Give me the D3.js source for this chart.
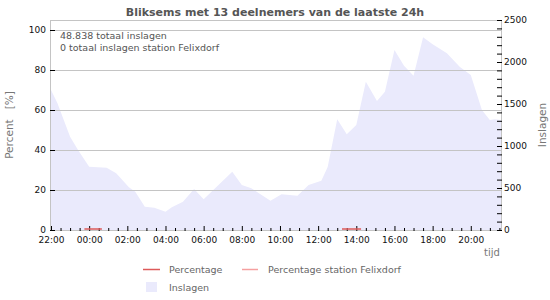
<!DOCTYPE html>
<html><head><meta charset="utf-8">
<script src="https://cdn.jsdelivr.net/npm/d3@7"></script>
<style>body{margin:0;background:#fff}svg{display:block;font-family:"DejaVu Sans",sans-serif}</style>
</head><body><svg id="c" width="550" height="300"></svg>
<script>
const title = "Bliksems met 13 deelnemers van de laatste 24h";
const infoLines = ["48.838 totaal inslagen", "0 totaal inslagen station Felixdorf"];
const inslagenTimes = ["22:00","22:20","23:00","23:25","00:00","00:55","01:25","02:05","02:25","02:55","03:25","04:00","04:20","04:55","05:30","06:00","07:30","08:00","08:30","09:30","10:05","10:55","11:30","12:10","12:30","13:00","13:30","14:00","14:30","15:05","15:30","16:00","16:30","17:00","17:30","18:00","18:45","19:25","20:00","20:35","21:00","21:15","21:35"];
const inslagenValues = [1667,1512,1111,952,754,742,675,508,456,278,266,218,270,337,488,365,694,536,496,349,425,408,536,587,750,1317,1139,1250,1766,1536,1647,2143,1956,1837,2294,2210,2103,1944,1845,1429,1310,1317,1310];
const pctTimes = ["23:45","00:40","13:15","14:15"];
const pctValues = [0,0,0,0];
const pctGroups = [0,0,1,1];
const leftTicks = [0,20,40,60,80,100];
const rightTicks = [0,500,1000,1500,2000,2500];
const xTickLabels = ["22:00","00:00","02:00","04:00","06:00","08:00","10:00","12:00","14:00","16:00","18:00","20:00"];
const legendItems = ["Percentage","Percentage station Felixdorf","Inslagen"];

function toDate(s){const [h,m]=s.split(":").map(Number);return new Date(2024,0,h>=22?1:2,h,m);}

const svg = d3.select("#c");
const L=51,R=501,T=20,B=230;
const x = d3.scaleTime().domain([toDate("22:00"), toDate("21:35")]).range([L,R]);
const yL = d3.scaleLinear().domain([0,105]).range([B,T]);
const yR = d3.scaleLinear().domain([0,2500]).range([B,T]);

// area
const ins = inslagenTimes.map((t,i)=>({d:toDate(t),v:inslagenValues[i]}));
svg.append("path").datum(ins)
  .attr("d", d3.area().x(d=>x(d.d)).y0(B).y1(d=>yR(d.v)))
  .attr("fill","#eaeafc");

// gridlines
svg.append("g").selectAll("line").data(leftTicks.filter(t=>t>0)).join("line")
  .attr("x1",L).attr("x2",R).attr("y1",d=>yL(d)+0.5).attr("y2",d=>yL(d)+0.5)
  .attr("stroke","#c4c4c4").attr("stroke-width",1);
svg.append("line").attr("x1",L).attr("x2",R).attr("y1",T+0.5).attr("y2",T+0.5).attr("stroke","#c4c4c4");
svg.append("line").attr("x1",L-0.5).attr("x2",L-0.5).attr("y1",T).attr("y2",B).attr("stroke","#c4c4c4");
svg.append("line").attr("x1",R+0.5).attr("x2",R+0.5).attr("y1",T).attr("y2",B).attr("stroke","#c4c4c4");
svg.append("line").attr("x1",L).attr("x2",R).attr("y1",B+0.5).attr("y2",B+0.5).attr("stroke","#c4c4c4");

// left axis
const gL = svg.append("g").attr("transform",`translate(${L-1},0)`)
  .call(d3.axisRight(yL).tickValues(leftTicks).tickSize(5).tickFormat(d3.format("d")));
gL.select(".domain").remove();
gL.selectAll(".tick line").attr("stroke","#000");
gL.selectAll(".tick text").attr("x",-4).attr("text-anchor","end").attr("font-size",9).attr("fill","#111").attr("font-family","DejaVu Sans");

// right axis
const gR = svg.append("g").attr("transform",`translate(${R+1},0)`)
  .call(d3.axisLeft(yR).ticks(25).tickSize(5).tickFormat(""));
gR.select(".domain").remove();
gR.selectAll(".tick line").attr("stroke","#000");
const gR2 = svg.append("g").attr("transform",`translate(${R+1},0)`)
  .call(d3.axisRight(yR).tickValues(rightTicks).tickSize(0).tickPadding(2).tickFormat(d3.format("d")));
gR2.select(".domain").remove();
gR2.selectAll(".tick text").attr("font-size",9).attr("fill","#111").attr("font-family","DejaVu Sans");

// x axis
const gX = svg.append("g").attr("transform",`translate(0,${B+1})`)
  .call(d3.axisTop(x).ticks(d3.timeMinute.every(30)).tickSize(3).tickFormat(""));
gX.select(".domain").remove();
gX.selectAll(".tick line").attr("stroke","#000").attr("y2",d=>d.getMinutes()===0&&d.getHours()%2===0?-5:-3);
const xLabDates = xTickLabels.map(toDate);
const gX2 = svg.append("g").attr("transform",`translate(0,${B})`)
  .call(d3.axisBottom(x).tickValues(xLabDates).tickSize(0).tickPadding(7).tickFormat(d3.timeFormat("%H:%M")));
gX2.select(".domain").remove();
gX2.selectAll(".tick text").attr("font-size",9).attr("fill","#111").attr("font-family","DejaVu Sans");

// percentage lines
const pct = pctTimes.map((t,i)=>({d:toDate(t),v:pctValues[i],g:pctGroups[i]}));
d3.groups(pct,d=>d.g).forEach(([g,arr])=>{
  svg.append("path").datum(arr).attr("d",d3.line().x(d=>x(d.d)).y(d=>yL(d.v)-1))
    .attr("stroke","#dd5a5a").attr("stroke-width",1.5).attr("fill","none");
});

// title
svg.append("text").attr("x",275).attr("y",16).attr("text-anchor","middle")
  .attr("font-size",11).attr("font-weight","bold").attr("fill","#555").text(title);
// info
infoLines.forEach((s,i)=>svg.append("text").attr("x",60).attr("y",39+i*11.5)
  .attr("font-size",9.5).attr("fill","#555").text(s));
// axis titles
svg.append("text").attr("transform","translate(13,125) rotate(-90)").attr("text-anchor","middle")
  .attr("font-size",10.5).attr("fill","#777").attr("xml:space","preserve").text("Percent   [%]");
svg.append("text").attr("transform","translate(546,125) rotate(-90)").attr("text-anchor","middle")
  .attr("font-size",10.5).attr("fill","#777").text("Inslagen");
svg.append("text").attr("x",492).attr("y",256).attr("text-anchor","middle")
  .attr("font-size",10).attr("fill","#777").text("tijd");

// legend
const lg = svg.append("g").attr("font-size",9.5).attr("fill","#666");
lg.append("line").attr("x1",143).attr("x2",160).attr("y1",269.5).attr("y2",269.5).attr("stroke","#dd5a5a").attr("stroke-width",1.5);
lg.append("text").attr("x",169).attr("y",273).text(legendItems[0]);
lg.append("line").attr("x1",242).attr("x2",258).attr("y1",269.5).attr("y2",269.5).attr("stroke","#f5a0a0").attr("stroke-width",1.5);
lg.append("text").attr("x",268).attr("y",273).text(legendItems[1]);
lg.append("rect").attr("x",146).attr("y",282).attr("width",11).attr("height",10).attr("fill","#eaeafc");
lg.append("text").attr("x",169).attr("y",291).text(legendItems[2]);
</script></body></html>
